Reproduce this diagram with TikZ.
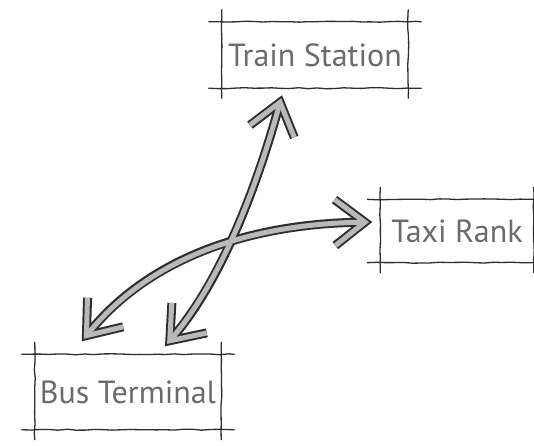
\documentclass[tikz,border=0pt]{standalone}
\usepackage{fontspec}
\setmainfont{PT Sans}
\usetikzlibrary{arrows.meta,decorations.pathmorphing}
\definecolor{ink}{gray}{0.18}
\definecolor{label}{gray}{0.42}
\tikzset{
  place/.style={inner sep=0pt, text=label, font=\fontsize{32}{32}\selectfont},
  pencil/.style={draw=ink, line width=1.3pt, line cap=round,
    decorate, decoration={random steps, segment length=9pt, amplitude=0.5pt}},
  barbs/.style={{Straight Barb[length=30pt,width=46pt]}-{Straight Barb[length=30pt,width=46pt]}},
  rodedge/.style={barbs, draw=ink, line width=9pt, line cap=round, line join=round},
  rodcore/.style={barbs, draw=gray!55, line width=5pt, line cap=round, line join=round,
    shorten >=3.2pt, shorten <=3.2pt}
}
\begin{document}
\begin{tikzpicture}[x=1pt,y=-1pt]
  \pgfmathsetseed{7}
  \useasboundingbox[fill=white] (0,0) rectangle (534,445);
  % places
  \node[place, minimum width=186pt, minimum height=66pt] (train) at (315,55) {Train Station};
  \node[place, minimum width=153pt, minimum height=63pt] (taxi) at (457,231) {Taxi Rank};
  \node[place, minimum width=186pt, minimum height=75pt] (bus) at (128,392) {Bus Terminal};
  % sketchy frames, lines run past the corners
  \foreach \n in {train,taxi,bus} {
    \draw[pencil] ([xshift=-13pt]\n.north west) -- ([xshift=13pt]\n.north east);
    \draw[pencil] ([xshift=-13pt]\n.south west) -- ([xshift=13pt]\n.south east);
    \draw[pencil] ([yshift=12pt]\n.north west) -- ([yshift=-10pt]\n.south west);
    \draw[pencil] ([yshift=12pt]\n.north east) -- ([yshift=-10pt]\n.south east);
  }
  % arrow ends
  \coordinate (busA) at ([xshift=47pt,yshift=13pt]bus.north west);
  \coordinate (busB) at ([xshift=37pt,yshift=8pt]bus.north);
  \coordinate (taxiin) at ([xshift=-8pt,yshift=9pt]taxi.west);
  \coordinate (trainin) at ([xshift=-33pt,yshift=-7pt]train.south);
  % two-way routes
  \foreach \s in {rodedge,rodcore} {
    \draw[\s] (busA) .. controls +(65,-80) and +(-130,2) .. (taxiin);
    \draw[\s] (busB) .. controls +(60,-70) and +(-22,80) .. (trainin);
  }
\end{tikzpicture}
\end{document}
